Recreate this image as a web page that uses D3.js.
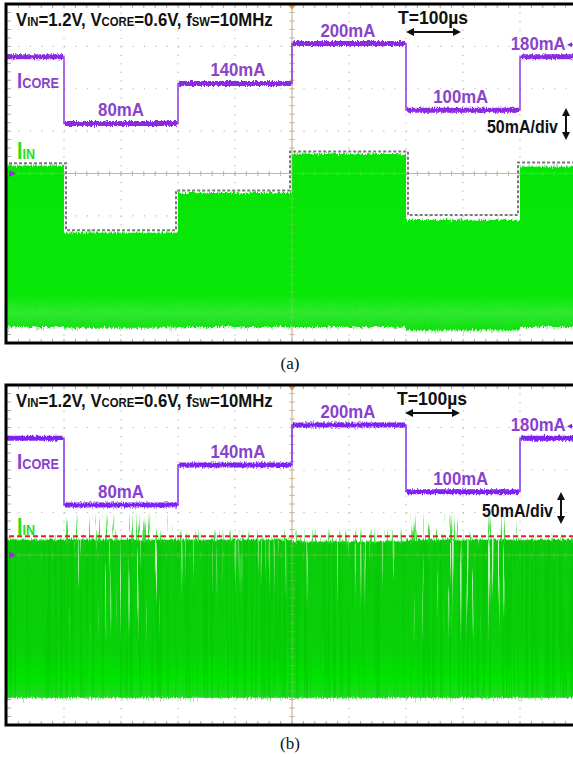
<!DOCTYPE html>
<html><head><meta charset="utf-8">
<script src="https://cdn.jsdelivr.net/npm/d3@7"></script>
<style>
html,body{margin:0;padding:0;background:#fff;}
svg{display:block;}
</style></head><body>
<svg id="chart" width="573" height="757"></svg>
<script>
// ---- data -------------------------------------------------------------
// load-step schedule on the time axis (µs)
const stepTimes = [0, 100, 300, 500, 700, 900, 1000];
// core load current for each interval (mA)
const icoreLevels = [180, 80, 140, 200, 100, 180];
// input-current ripple band, converter (a): peak / valley per interval (mA)
const iinPeakA = [209, 130, 177, 223, 145, 208];
const iinValleyA = [19, 18, 19, 19, 15, 19];
// dashed peak envelope drawn around (a)
const iinEnvelopeA = [212, 133, 180, 226, 151, 213];
// input-current ripple band, converter (b)
const iinPeakB = [218, 218, 218, 216, 218, 218];
const iinValleyB = [32, 32, 32, 32, 32, 32];
// relative amount of ripple spikes per interval, converter (b)
const spikeLevelB = [0, 1, 0.35, 0.45, 1, 0.2];
// constant input-current line in (b) (mA)
const iinLimitB = 222;
// level annotations: which interval, and where on the time axis
const labelIntervals = [1, 2, 3, 4, 5];
const labelTimes = [200, 405, 598, 796, 932];
const titleParts = [["V",0],["IN",1],["=1.2V, V",0],["CORE",1],["=0.6V, f",0],["SW",1],["=10MHz",0]];
const periodText = "T=100µs";
const scaleText = "50mA/div";

// ---- setup ------------------------------------------------------------
const W = 573, H = 757;
const svg = d3.select("#chart");
const defs = svg.append("defs");
const FONT = "'Liberation Sans', Arial, sans-serif";

const x = d3.scaleLinear().domain([0, 1000]).range([7, 577]);
const DIVX = (x(1000) - x(0)) / 10;

// vertical jitter: displaces pixels up/down only (noisy trace look)
function jitterFilter(id, fx, fy, seed, scale) {
  const f = defs.append("filter").attr("id", id)
    .attr("filterUnits", "userSpaceOnUse")
    .attr("x", 0).attr("y", 0).attr("width", W).attr("height", H)
    .attr("color-interpolation-filters", "sRGB");
  f.append("feTurbulence").attr("type", "fractalNoise")
    .attr("baseFrequency", `${fx} ${fy}`).attr("numOctaves", 2)
    .attr("seed", seed).attr("result", "n");
  f.append("feColorMatrix").attr("in", "n").attr("type", "matrix")
    .attr("values", "0 0 0 0 0.5  0 1 0 0 0  0 0 0 0 0  0 0 0 0 1")
    .attr("result", "m");
  f.append("feDisplacementMap").attr("in", "SourceGraphic").attr("in2", "m")
    .attr("scale", scale).attr("xChannelSelector", "R").attr("yChannelSelector", "G");
}
// thin vertical streaks in a fixed colour, shaped by the source alpha
function streakFilter(id, fx, fy, seed, thr, color) {
  const c = d3.color(color);
  const k = 14;
  const f = defs.append("filter").attr("id", id)
    .attr("filterUnits", "userSpaceOnUse")
    .attr("x", 0).attr("y", 0).attr("width", W).attr("height", H)
    .attr("color-interpolation-filters", "sRGB");
  f.append("feTurbulence").attr("type", "fractalNoise")
    .attr("baseFrequency", `${fx} ${fy}`).attr("numOctaves", 2)
    .attr("seed", seed).attr("result", "n");
  f.append("feColorMatrix").attr("in", "n").attr("type", "matrix")
    .attr("values", `0 0 0 0 ${c.r/255}  0 0 0 0 ${c.g/255}  0 0 0 0 ${c.b/255}  ${k} 0 0 0 ${-k*thr}`)
    .attr("result", "s");
  f.append("feComposite").attr("in", "s").attr("in2", "SourceGraphic").attr("operator", "in");
}

jitterFilter("jitTrace", 0.9, 0.35, 4, 4.5);
jitterFilter("jitGreenA", 0.8, 0.06, 7, 6);
jitterFilter("jitHaloA", 0.6, 0.05, 11, 12);
jitterFilter("jitGreenB", 0.8, 0.06, 9, 5);
jitterFilter("jitHaloB", 0.6, 0.05, 13, 16);
streakFilter("paleStreak", 0.4, 0.006, 21, 0.63, "#d2f7cc");
streakFilter("spikeStreak", 0.5, 0.02, 5, 0.6, "#2ad82a");
streakFilter("darkStreak", 0.35, 0.004, 17, 0.52, "#00b800");

// fades
function vGrad(id, stops) {
  const g = defs.append("linearGradient").attr("id", id)
    .attr("x1", 0).attr("y1", 0).attr("x2", 0).attr("y2", 1);
  stops.forEach(s => g.append("stop").attr("offset", s[0])
    .attr("stop-color", s[1]).attr("stop-opacity", s[2]));
}
vGrad("fadeDown", [[0, "#fff", 1], [0.4, "#fff", 0.85], [1, "#fff", 0]]);
vGrad("fadeUp", [[0, "#fff", 0], [0.6, "#fff", 0.9], [1, "#fff", 1]]);
vGrad("greenA", [[0, "#06e406", 1], [0.8, "#08e808", 1], [0.9, "#2ee92e", 1], [1, "#10e010", 1]]);
vGrad("greenB", [[0, "#0ccc0c", 1], [0.7, "#08d208", 1], [0.88, "#00e400", 1], [1, "#22d822", 1]]);

const intervals = icoreLevels.map((v, i) => ({ i, t0: stepTimes[i], t1: stepTimes[i + 1], v }));

function textWidthFit(sel, target) {
  const w = sel.node().getComputedTextLength();
  return target / w;
}

// ---- one oscilloscope panel ------------------------------------------
function drawPanel(cfg) {
  const g = svg.append("g");
  const top = cfg.top, bottom = cfg.bottom;
  const yc = (top + bottom) / 2, DIVY = (bottom - top) / 8;
  const yCore = d3.scaleLinear().domain([0, 200]).range([yc + 3.3, yc - 130]);
  const yIn = d3.scaleLinear().domain([0, 200]).range([bottom, bottom - 4 * DIVY]);
  const xL = x(0), xR = x(1000);

  // grid: dotted division lines
  const grid = g.append("g");
  d3.range(100, 1000, 100).filter(t => t !== 500).forEach(t => {
    grid.append("line").attr("x1", x(t)).attr("x2", x(t)).attr("y1", top + DIVY / 5).attr("y2", bottom)
      .attr("stroke", "#b9b9b9").attr("stroke-width", 1.2)
      .attr("stroke-dasharray", `1.2 ${DIVY / 5 - 1.2}`);
  });
  d3.range(1, 8).filter(j => j !== 4).forEach(j => {
    const y = top + j * DIVY;
    grid.append("line").attr("x1", xL + DIVX / 5).attr("x2", xR).attr("y1", y).attr("y2", y)
      .attr("stroke", "#b9b9b9").attr("stroke-width", 1.2)
      .attr("stroke-dasharray", `1.2 ${DIVX / 5 - 1.2}`);
  });
  // edge ticks
  d3.range(1, 50).forEach(k => {
    const xx = xL + k * DIVX / 5;
    grid.append("line").attr("x1", xx).attr("x2", xx).attr("y1", bottom).attr("y2", bottom - 4)
      .attr("stroke", "#a8a8a8");
    grid.append("line").attr("x1", xx).attr("x2", xx).attr("y1", top).attr("y2", top + 4)
      .attr("stroke", "#a8a8a8");
  });
  d3.range(1, 40).forEach(k => {
    const yy = top + k * DIVY / 5;
    grid.append("line").attr("x1", xL).attr("x2", xL + 4).attr("y1", yy).attr("y2", yy)
      .attr("stroke", "#a8a8a8");
  });

  function centerLines(parent, op) {
    const c = parent.append("g").attr("opacity", op);
    c.append("line").attr("x1", xL).attr("x2", xR).attr("y1", yc).attr("y2", yc)
      .attr("stroke", "#c8b596").attr("stroke-width", 1);
    c.append("line").attr("x1", x(500)).attr("x2", x(500)).attr("y1", top).attr("y2", bottom)
      .attr("stroke", "#c8b596").attr("stroke-width", 1);
    d3.range(1, 50).forEach(k => {
      const xx = xL + k * DIVX / 5;
      c.append("line").attr("x1", xx).attr("x2", xx).attr("y1", yc - 2.5).attr("y2", yc + 2.5)
        .attr("stroke", "#c8b596");
    });
    d3.range(1, 40).forEach(k => {
      const yy = top + k * DIVY / 5;
      c.append("line").attr("x1", x(500) - 2.5).attr("x2", x(500) + 2.5).attr("y1", yy).attr("y2", yy)
        .attr("stroke", "#c8b596");
    });
  }
  centerLines(g, 1);

  // input current band
  const band = intervals.map(d => ({ t: d.t0, hi: cfg.peak[d.i], lo: cfg.valley[d.i] }));
  band.push({ t: 1000, hi: cfg.peak[cfg.peak.length - 1], lo: cfg.valley[cfg.valley.length - 1] });
  const area = d3.area().curve(d3.curveStepAfter)
    .x(d => x(d.t)).y0(d => yIn(d.lo)).y1(d => yIn(d.hi));
  const clipId = "clip" + cfg.id;
  defs.append("clipPath").attr("id", clipId).append("rect")
    .attr("x", xL).attr("y", top).attr("width", xR - xL).attr("height", bottom - top);
  const plot = g.append("g").attr("clip-path", `url(#${clipId})`);

  plot.append("path").attr("d", area(band)).attr("fill", cfg.halo).attr("opacity", 0.75)
    .attr("filter", `url(#${cfg.haloFilter})`);
  const areaClip = "areaClip" + cfg.id;
  defs.append("clipPath").attr("id", areaClip).append("path").attr("d", area(band));
  plot.append("path").attr("d", area(band)).attr("fill", `url(#${cfg.fill})`)
    .attr("filter", `url(#${cfg.bandFilter})`);

  if (cfg.spikes) {
    // dense switching texture and ripple spikes
    plot.append("rect").attr("x", xL).attr("width", xR - xL)
      .attr("y", yIn(d3.max(cfg.peak))).attr("height", yIn(0) - yIn(d3.max(cfg.peak)))
      .attr("fill", "#fff").attr("opacity", 0.3).attr("clip-path", `url(#${areaClip})`)
      .attr("filter", "url(#darkStreak)");
    intervals.filter(d => cfg.spikes[d.i] > 0.3).forEach(d => {
      const s = cfg.spikes[d.i];
      const yTop = yIn(cfg.peak[d.i]);
      plot.append("rect").attr("x", x(d.t0) + 2).attr("width", x(d.t1) - x(d.t0) - 4)
        .attr("y", yTop - 4).attr("height", 40 + 70 * s)
        .attr("fill", "url(#fadeDown)").attr("opacity", Math.min(1, 0.2 + s))
        .attr("clip-path", `url(#${areaClip})`)
        .attr("filter", "url(#paleStreak)");
    });
    intervals.filter(d => cfg.spikes[d.i] > 0.1).forEach(d => {
      const s = cfg.spikes[d.i];
      const yTop = yIn(cfg.peak[d.i]);
      plot.append("rect").attr("x", x(d.t0) + 2).attr("width", x(d.t1) - x(d.t0) - 4)
        .attr("y", yTop - 26 * s - 2).attr("height", 26 * s + 5)
        .attr("fill", "url(#fadeUp)").attr("opacity", 0.95)
        .attr("filter", "url(#spikeStreak)");
    });
  }
  centerLines(plot, 0.35);

  // dashed peak envelope
  if (cfg.envelope) {
    const pts = [];
    intervals.forEach(d => {
      const v = cfg.envelope[d.i];
      const prev = d.i > 0 ? cfg.envelope[d.i - 1] : null;
      const next = d.i < intervals.length - 1 ? cfg.envelope[d.i + 1] : null;
      const xa = d.i === 0 ? xL + 2 : x(d.t0) + (prev > v ? 2 : -2);
      const xb = next === null ? xR : x(d.t1) + (next < v ? 2 : -2);
      pts.push([xa, yIn(v)], [xb, yIn(v)]);
    });
    g.append("path").attr("d", d3.line()(pts)).attr("fill", "none")
      .attr("stroke", "#7a7a7a").attr("stroke-width", 2).attr("stroke-dasharray", "3 2");
  }
  if (cfg.limit) {
    g.append("line").attr("x1", xL + 2).attr("x2", W).attr("y1", yIn(cfg.limit)).attr("y2", yIn(cfg.limit))
      .attr("stroke", "#e3201c").attr("stroke-width", 2).attr("stroke-dasharray", "5 3");
  }

  // core current trace
  const tr = plot.append("g");
  const steps = intervals.map(d => ({ t: d.t0, v: d.v }));
  steps.push({ t: 1000, v: icoreLevels[icoreLevels.length - 1] });
  tr.append("path").attr("d", d3.line().curve(d3.curveStepAfter).x(d => x(d.t)).y(d => yCore(d.v))(steps))
    .attr("fill", "none").attr("stroke", cfg.trace).attr("stroke-width", 1.4);
  const thick = tr.append("g").attr("filter", "url(#jitTrace)");
  intervals.forEach(d => {
    thick.append("line").attr("x1", x(d.t0) + (d.i ? 1 : -2)).attr("x2", x(d.t1) - 1)
      .attr("y1", yCore(d.v)).attr("y2", yCore(d.v))
      .attr("stroke", cfg.trace).attr("stroke-width", 5);
  });

  // markers
  g.append("path").attr("d", `M${xL + 2},${yc - 3.5}L${xL + 9},${yc}L${xL + 2},${yc + 3.5}Z`).attr("fill", "#9a2fe0");
  g.append("path").attr("d", `M${x(500) - 3.5},${top + 1}L${x(500) + 3.5},${top + 1}L${x(500)},${top + 6}Z`).attr("fill", "#d99a50");
  const mY = yCore(icoreLevels[icoreLevels.length - 1]) - 12;
  g.append("path").attr("d", `M${W - 6},${mY}L${W - 1},${mY - 2.5}L${W - 1},${mY + 2.5}Z`).attr("fill", cfg.trace);
  g.append("line").attr("x1", W - 3).attr("x2", W).attr("y1", mY).attr("y2", mY).attr("stroke", cfg.trace);

  // title
  const title = g.append("text").attr("font-family", FONT).attr("font-weight", "bold").attr("fill", "#111");
  titleParts.forEach(p => title.append("tspan").attr("font-size", p[1] ? 12.5 : 18.5).text(p[0]));
  const k1 = textWidthFit(title, 257);
  title.attr("transform", `translate(16,${top + 22}) scale(${k1},1)`);

  // channel labels
  const lc = g.append("text").attr("font-family", FONT).attr("font-weight", "bold").attr("fill", cfg.label);
  lc.append("tspan").attr("font-size", 22).text("I");
  lc.append("tspan").attr("font-size", 15).text("CORE");
  const k2 = textWidthFit(lc, 42);
  lc.attr("transform", `translate(17,${top + 83.5}) scale(${k2},1)`);
  const li = g.append("text").attr("font-family", FONT).attr("font-weight", "bold").attr("fill", "#22e022");
  li.append("tspan").attr("font-size", 24).text("I");
  li.append("tspan").attr("font-size", 15.5).text("IN");
  const k3 = textWidthFit(li, 18);
  li.attr("transform", `translate(17,${cfg.iinLabelY}) scale(${k3},1)`);

  // level annotations
  labelIntervals.forEach((iv, n) => {
    const v = icoreLevels[iv];
    const t = g.append("text").attr("font-family", FONT).attr("font-weight", "bold")
      .attr("font-size", 18.5).attr("fill", cfg.label).attr("text-anchor", "middle").text(`${v}mA`);
    const k = textWidthFit(t, v < 100 ? 46 : 55);
    t.attr("transform", `translate(${x(labelTimes[n])},${yCore(v) - 7}) scale(${k},1)`);
  });

  // period and scale notes
  const tp = g.append("text").attr("font-family", FONT).attr("font-weight", "bold").attr("font-size", 18.5)
    .attr("fill", "#111").attr("text-anchor", "middle").text(periodText);
  tp.attr("transform", `translate(${cfg.periodX},${top + 19.5}) scale(${textWidthFit(tp, 70)},1)`);
  const ay = top + 28, ax0 = cfg.periodX - 27, ax1 = cfg.periodX + 28;
  g.append("line").attr("x1", ax0 + 4).attr("x2", ax1 - 4).attr("y1", ay).attr("y2", ay)
    .attr("stroke", "#111").attr("stroke-width", 2);
  g.append("path").attr("d", `M${ax0},${ay}L${ax0 + 8},${ay - 4}L${ax0 + 8},${ay + 4}Z M${ax1},${ay}L${ax1 - 8},${ay - 4}L${ax1 - 8},${ay + 4}Z`)
    .attr("fill", "#111");
  const sc = g.append("text").attr("font-family", FONT).attr("font-weight", "bold").attr("font-size", 18.5)
    .attr("fill", "#111").text(scaleText);
  sc.attr("transform", `translate(${cfg.scaleX},${top + cfg.scaleDy}) scale(${textWidthFit(sc, 71)},1)`);
  const vx = cfg.scaleX + 79, vy0 = top + cfg.scaleDy - 25, vy1 = top + cfg.scaleDy + 7;
  g.append("line").attr("x1", vx).attr("x2", vx).attr("y1", vy0 + 4).attr("y2", vy1 - 4)
    .attr("stroke", "#111").attr("stroke-width", 2);
  g.append("path").attr("d", `M${vx},${vy0}L${vx - 4},${vy0 + 8}L${vx + 4},${vy0 + 8}Z M${vx},${vy1}L${vx - 4},${vy1 - 8}L${vx + 4},${vy1 - 8}Z`)
    .attr("fill", "#111");

  // frame
  g.append("rect").attr("x", xL - 1).attr("y", top).attr("width", xR - xL + 10).attr("height", bottom - top)
    .attr("fill", "none").attr("stroke", "#000").attr("stroke-width", 3);

  // caption
  svg.append("text").attr("x", 290).attr("y", cfg.captionY).attr("text-anchor", "middle")
    .attr("font-family", "'Liberation Serif', 'Times New Roman', serif").attr("font-size", 17)
    .attr("fill", "#111").text(cfg.caption);
}

drawPanel({
  id: "a", top: 4, bottom: 343, peak: iinPeakA, valley: iinValleyA, envelope: iinEnvelopeA,
  fill: "greenA", halo: "#8af08a", bandFilter: "jitGreenA", haloFilter: "jitHaloA",
  trace: "#8a2be2", label: "#8a44c8", iinLabelY: 159, periodX: 433, scaleX: 487, scaleDy: 129,
  caption: "(a)", captionY: 369
});
drawPanel({
  id: "b", top: 385, bottom: 725, peak: iinPeakB, valley: iinValleyB, spikes: spikeLevelB,
  limit: iinLimitB,
  fill: "greenB", halo: "#7de87d", bandFilter: "jitGreenB", haloFilter: "jitHaloB",
  trace: "#7d22f2", label: "#8a3fd0", iinLabelY: 535, periodX: 432, scaleX: 482, scaleDy: 132,
  caption: "(b)", captionY: 749
});
</script>
</body></html>
